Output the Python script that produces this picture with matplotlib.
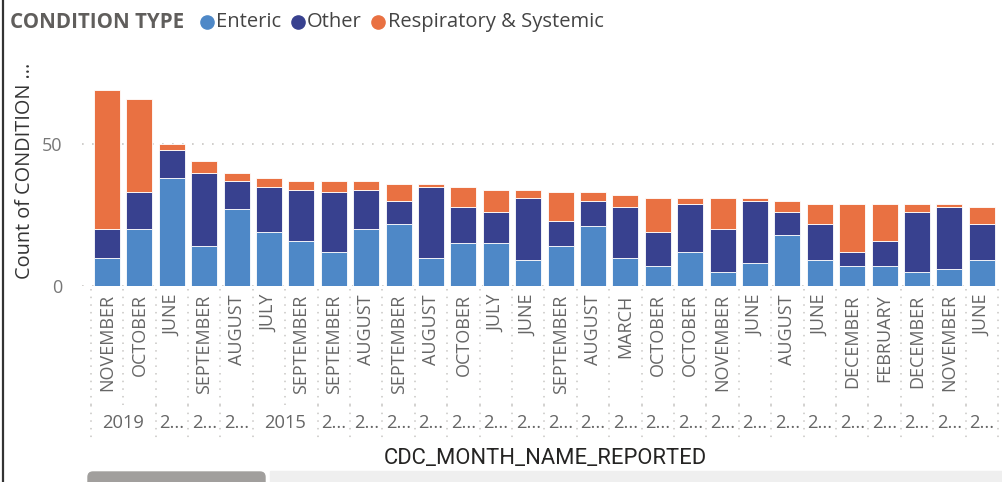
import matplotlib
matplotlib.use("Agg")
import matplotlib.pyplot as plt
import numpy as np
from matplotlib.patches import FancyBboxPatch, Rectangle
from matplotlib.lines import Line2D

# --- data --- #
months = ["NOVEMBER", "OCTOBER", "JUNE", "SEPTEMBER", "AUGUST", "JULY", "SEPTEMBER",
          "SEPTEMBER", "AUGUST", "SEPTEMBER", "AUGUST", "OCTOBER", "JULY", "JUNE",
          "SEPTEMBER", "AUGUST", "MARCH", "OCTOBER", "OCTOBER", "NOVEMBER", "JUNE",
          "AUGUST", "JUNE", "DECEMBER", "FEBRUARY", "DECEMBER", "NOVEMBER", "JUNE"]
# year groups (label, number of bars spanned)
year_groups = [("2019", 2), ("2...", 1), ("2...", 1), ("2...", 1), ("2015", 2)] + [("2...", 1)] * 21

enteric = [10, 20, 38, 14, 27, 19, 16, 12, 20, 22, 10, 15, 15, 9,
           14, 21, 10, 7, 12, 5, 8, 18, 9, 7, 7, 5, 6, 9]
other = [10, 13, 10, 26, 10, 16, 18, 21, 14, 8, 25, 13, 11, 22,
         9, 9, 18, 12, 17, 15, 22, 8, 13, 5, 9, 21, 22, 13]
resp = [49, 33, 2, 4, 3, 3, 3, 4, 3, 6, 1, 7, 8, 3,
        10, 3, 4, 12, 2, 11, 1, 4, 7, 17, 13, 3, 1, 6]

series_names = ["Enteric", "Other", "Respiratory & Systemic"]
colors = ["#4e88c7", "#38418f", "#e97142"]

FONT = ["Open Sans", "DejaVu Sans"]
plt.rcParams["font.family"] = FONT

W, H = 1003, 482
fig = plt.figure(figsize=(W / 100, H / 100), dpi=100)

# plot area in pixels: x 82..1000, y 60..286 (zero line)
ax_l, ax_r, ax_t, ax_b = 82, 1000, 60, 286
ax = fig.add_axes([ax_l / W, (H - ax_b) / H, (ax_r - ax_l) / W, (ax_b - ax_t) / H])

x = np.arange(len(months))
bottom = np.zeros(len(months))
for vals, col in zip([enteric, other, resp], colors):
    ax.bar(x, vals, width=0.8, bottom=bottom, color=col, edgecolor="white", linewidth=0.6, zorder=2)
    bottom += np.array(vals)

px_per_bar = 32.4
x0 = (ax_l - 107) / px_per_bar
ax.set_xlim(x0, x0 + (ax_r - ax_l) / px_per_bar)
ax.set_ylim(0, (ax_b - ax_t) / 2.834)

for s in ax.spines.values():
    s.set_visible(False)
ax.set_yticks([0, 50])
ax.yaxis.grid(True, color="#c8c6c4", linestyle=(0, (1, 5)), linewidth=1.2, zorder=0)
ax.tick_params(axis="y", length=0, pad=14, labelsize=13, labelcolor="#777777")
ax.set_xticks(x)
ax.set_xticklabels(months, rotation=90, fontsize=13, color="#666666")
ax.tick_params(axis="x", length=0, pad=6)

# y label
fig.text(25 / W, 1 - 171 / H, "Count of CONDITION ...", rotation=90, ha="center", va="center",
         fontsize=14.3, color="#333333")

# separators and year row under the axis
tr = ax.get_xaxis_transform()
hpx = ax_b - ax_t
def ay(py):
    return -(py - ax_b) / hpx

dot = dict(color="#c8c6c4", linestyle=(0, (1, 4)), linewidth=1.1, clip_on=False, transform=tr)
for b in np.arange(-0.5, len(months) + 0.5, 1):
    ax.add_line(Line2D([b, b], [ay(289), ay(405)], **dot))
pos = 0
for label, n in year_groups:
    left = pos - 0.5
    ax.add_line(Line2D([left, left], [ay(405), ay(442)], **dot))
    ax.text(pos + (n - 1) / 2, ay(423), label, transform=tr, ha="center", va="center",
            fontsize=13.2, color="#666666", clip_on=False)
    pos += n
ax.add_line(Line2D([pos - 0.5, pos - 0.5], [ay(405), ay(442)], **dot))

# x axis title
fig.text(545 / W, 1 - 458 / H, "CDC_MONTH_NAME_REPORTED", ha="center", va="center",
         fontsize=15.8, color="#252423", family=["Roboto", "DejaVu Sans"])

# legend row
fig.canvas.draw()
renderer = fig.canvas.get_renderer()
ly = 1 - 22 / H
t = fig.text(10 / W, ly, "CONDITION TYPE", ha="left", va="center", fontsize=14.8,
             fontweight="bold", color="#605e5c")
cur = t.get_window_extent(renderer).x1 + 16
for name, col in zip(series_names, colors):
    fig.add_artist(Line2D([(cur + 6.5) / W], [ly], marker="o", markersize=9.5, color=col,
                          linestyle="none", transform=fig.transFigure))
    tt = fig.text((cur + 16) / W, ly, name, ha="left", va="center", fontsize=14.5, color="#444444")
    cur = tt.get_window_extent(renderer).x1 + 10

# left border of the visual
fig.add_artist(Line2D([3.5 / W, 3.5 / W], [0, 1], color="#333333", linewidth=1.6,
                      transform=fig.transFigure))

# scroll bar (pixel-unit axes so the rounding is circular)
sb = fig.add_axes([0, 0, 1, 12 / H])
sb.set_xlim(0, W)
sb.set_ylim(0, 12)
sb.axis("off")
sb.add_patch(Rectangle((270, 0), W - 270, 11, color="#efefef", zorder=1))
sb.add_patch(FancyBboxPatch((88, -5), 177, 15, boxstyle="round,pad=0,rounding_size=5",
                            color="#a19f9d", zorder=2, clip_on=True))

fig.savefig("out.png", dpi=100)
